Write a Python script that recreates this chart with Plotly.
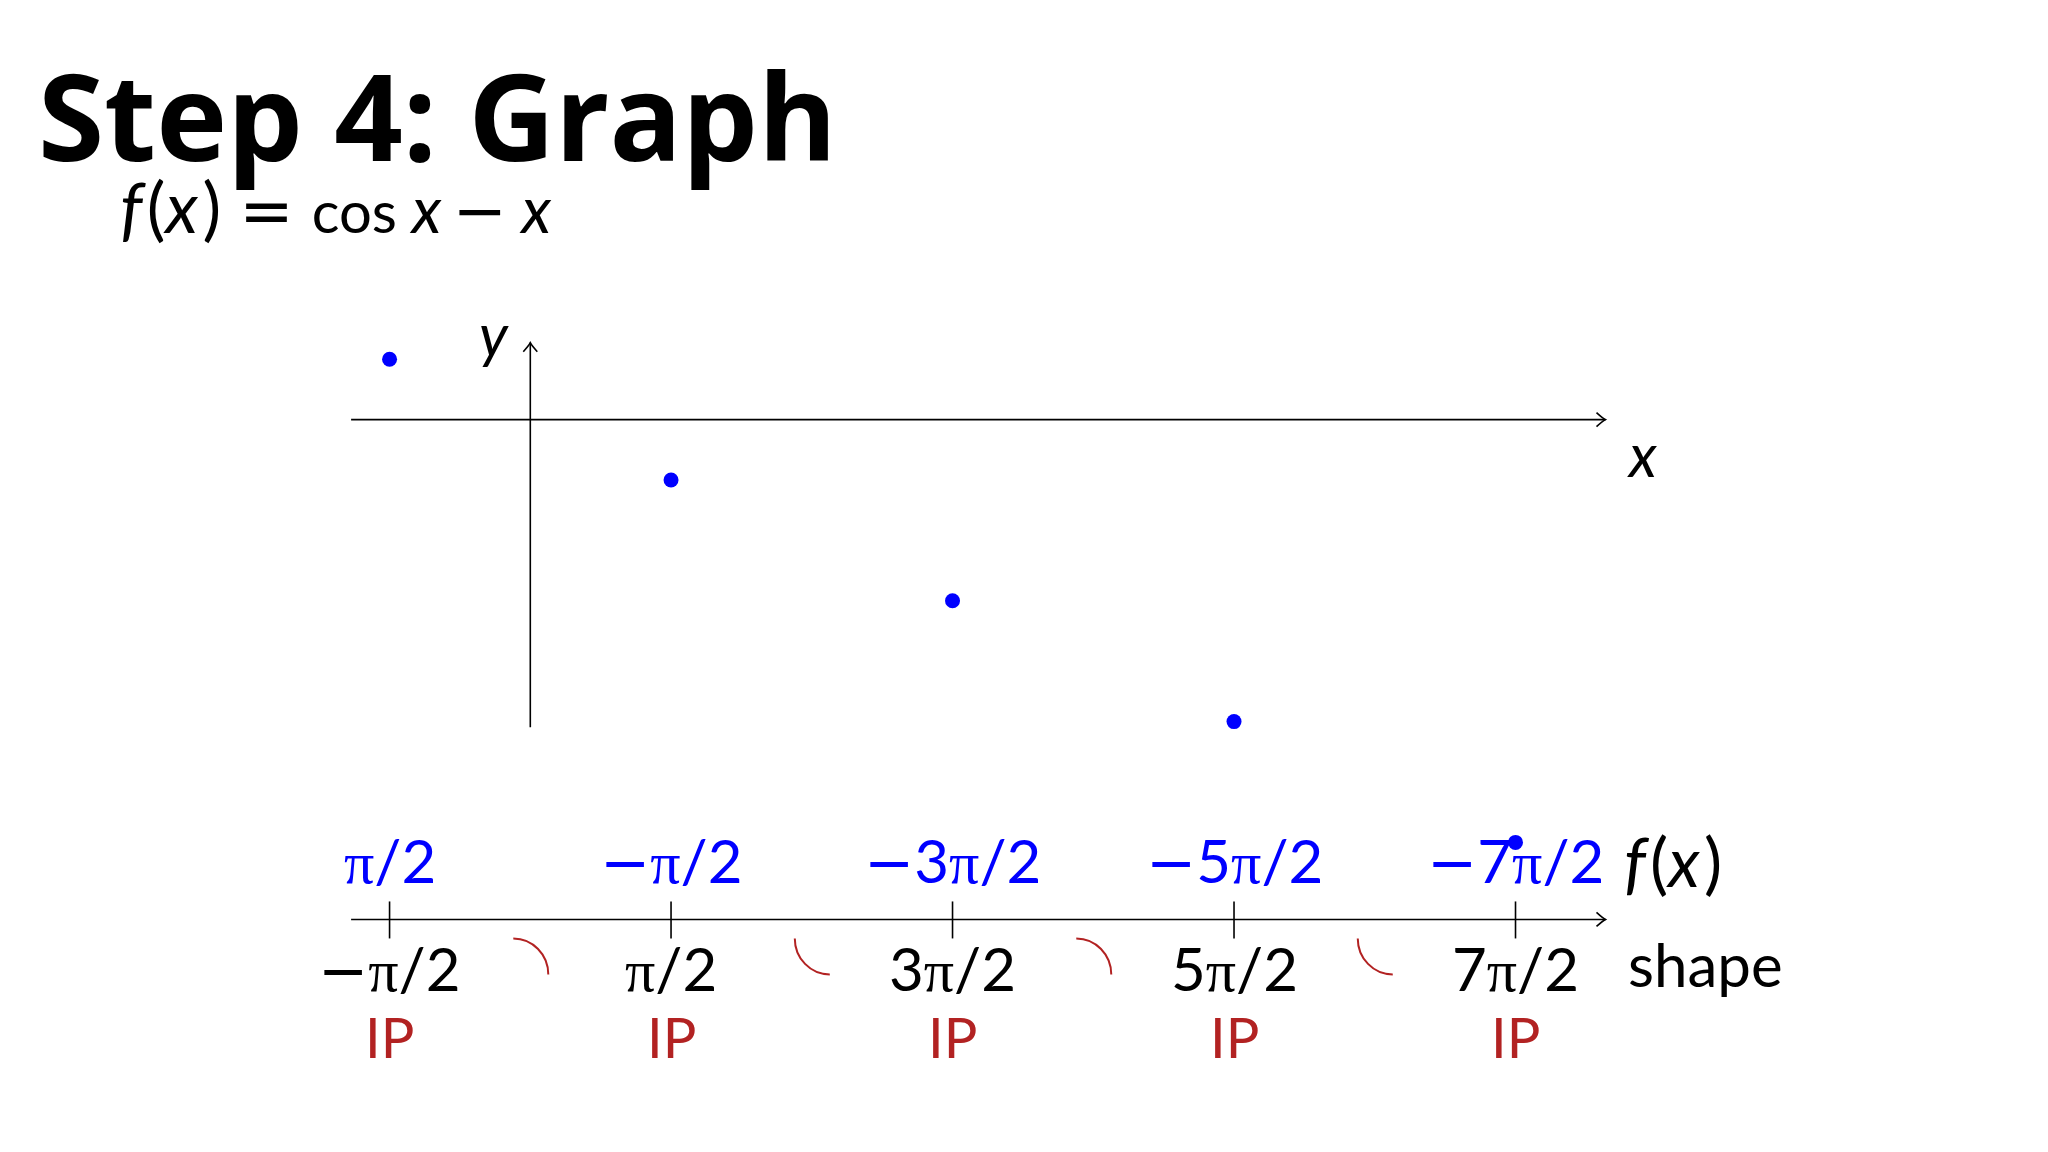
import plotly.graph_objects as go

# ---------------- data ----------------
x_vals = [-1.5708, 1.5708, 4.7124, 7.8540, 10.9956]          # x = -π/2 ... 7π/2
fx_vals = [1.5708, -1.5708, -4.7124, -7.8540, -10.9956]      # f(x) = cos x - x
x_labels = ["−π/2", "π/2", "3π/2", "5π/2", "7π/2"]
fx_labels = ["π/2", "−π/2", "−3π/2", "−5π/2", "−7π/2"]
ip_labels = ["IP", "IP", "IP", "IP", "IP"]
mid_vals = [0.0, 3.1416, 6.2832, 9.4248]                       # between inflection points
concavity = ["down", "up", "down", "up"]

# ---------------- geometry ----------------
W, H = 2048, 1152
X0PX, XSCALE = 530.3, 89.6     # px of x=0, px per unit
Y0PX, YSCALE = 419.6, 38.45    # px of y=0, px per unit
xr = [-X0PX / XSCALE, (W - X0PX) / XSCALE]
yr = [-(H - Y0PX) / YSCALE, Y0PX / YSCALE]

X_AX = (-2, 12)
Y_AX = (-8, 2)
NL_Y = -13.0   # number line height (data units)

def px(x):
    return x / W

def py(y):
    return 1 - y / H

BLUE = "#0000ff"
RED = "#b22222"
MATH_FONT = "Lato"
PI = '<span style="font-family:Liberation Serif">π</span>'
MINUS = '<span style="font-family:DejaVu Sans">−</span>'

def mathify(s):
    return s.replace("π", PI).replace("−", MINUS)

def fofx(size):
    return (f'<span style="font-size:{size}px"><i>f</i>\u200a(<i>x</i>\u200a)</span>')

def op(ch, size):
    return f'<span style="font-family:DejaVu Sans;font-size:{size}px">{ch}</span>'

def ix(size):
    return f'<span style="font-size:{size}px"><i>x</i></span>'

fig = go.Figure()

fig.add_trace(go.Scatter(
    x=x_vals, y=fx_vals, mode="markers",
    marker=dict(color=BLUE, size=15),
    hoverinfo="skip", showlegend=False,
))

shapes = []
LW = 1.6
# coordinate axes
shapes.append(dict(type="line", xref="x", yref="y", x0=X_AX[0], x1=X_AX[1], y0=0, y1=0,
                   line=dict(color="black", width=LW)))
shapes.append(dict(type="line", xref="x", yref="y", x0=0, x1=0, y0=Y_AX[0], y1=Y_AX[1],
                   line=dict(color="black", width=LW)))
# number line
shapes.append(dict(type="line", xref="x", yref="y", x0=X_AX[0], x1=X_AX[1], y0=NL_Y, y1=NL_Y,
                   line=dict(color="black", width=LW)))

# arrowheads
def arrow_right(xa, ya):
    return dict(type="path", xref="x", yref="y", xsizemode="pixel", ysizemode="pixel",
                xanchor=xa, yanchor=ya,
                path="M-9,-7 Q-3,-1.5 0,0 Q-3,1.5 -9,7",
                line=dict(color="black", width=LW))

def arrow_up(xa, ya):
    return dict(type="path", xref="x", yref="y", xsizemode="pixel", ysizemode="pixel",
                xanchor=xa, yanchor=ya,
                path="M-7,-9 Q-1.5,-3 0,0 Q1.5,-3 7,-9",
                line=dict(color="black", width=LW))

shapes.append(arrow_right(X_AX[1], 0))
shapes.append(arrow_up(0, Y_AX[1]))
shapes.append(arrow_right(X_AX[1], NL_Y))

# ticks on number line
for xv in x_vals:
    shapes.append(dict(type="line", xref="x", yref="y", ysizemode="pixel", yanchor=NL_Y,
                       x0=xv, x1=xv, y0=-19, y1=18,
                       line=dict(color="black", width=LW)))

# concavity arcs
K = 0.5523
AL, AR, AT, AB = -17, 18, -19, -55
for xm, c in zip(mid_vals, concavity):
    rx, ry = AR - AL, AT - AB
    if c == "down":
        path = (f"M{AL},{AT} C{AL + K * rx:.2f},{AT} {AR},{AB + K * ry:.2f} {AR},{AB}")
    else:
        path = (f"M{AL},{AT} C{AL},{AT - K * ry:.2f} {AR - K * rx:.2f},{AB} {AR},{AB}")
    shapes.append(dict(type="path", xref="x", yref="y", xsizemode="pixel", ysizemode="pixel",
                       xanchor=xm, yanchor=NL_Y, path=path,
                       line=dict(color=RED, width=2)))

ann = []
# title
ann.append(dict(text="<b>Step 4: Graph</b>", xref="paper", yref="paper",
                x=px(36), y=py(114), xanchor="left", yanchor="middle", showarrow=False,
                font=dict(family="Open Sans", size=120, color="black", weight=800)))
# formula
formula = (fofx(70) + "\u2009\u2009\u200a" + op("=", 65) + "\u2009\u2009\u200acos " + ix(64)
           + "\u2009\u200a" + op("−", 65) + "\u2009\u2009" + ix(64))
ann.append(dict(text=formula, xref="paper", yref="paper",
                x=px(118), y=py(206), xanchor="left", yanchor="middle", showarrow=False,
                font=dict(family=MATH_FONT, size=58, color="black")))
# axis labels
ann.append(dict(text="<i>y</i>", xref="paper", yref="paper", x=px(494), y=py(334),
                xanchor="center", yanchor="middle", showarrow=False,
                font=dict(family=MATH_FONT, size=60, color="black")))
ann.append(dict(text="<i>x</i>", xref="paper", yref="paper", x=px(1642), y=py(454),
                xanchor="center", yanchor="middle", showarrow=False,
                font=dict(family=MATH_FONT, size=60, color="black")))

LAB = 60
for xv, fl, xl, ip in zip(x_vals, fx_labels, x_labels, ip_labels):
    ann.append(dict(text=mathify(fl), xref="x", yref="paper", x=xv, y=py(860),
                    xanchor="center", yanchor="middle", showarrow=False,
                    font=dict(family=MATH_FONT, size=LAB, color=BLUE)))
    ann.append(dict(text=mathify(xl), xref="x", yref="paper", x=xv, y=py(968),
                    xanchor="center", yanchor="middle", showarrow=False,
                    font=dict(family=MATH_FONT, size=LAB, color="black")))
    ann.append(dict(text=ip, xref="x", yref="paper", x=xv, y=py(1036),
                    xanchor="center", yanchor="middle", showarrow=False,
                    font=dict(family=MATH_FONT, size=56, color=RED)))

ann.append(dict(text=fofx(68), xref="paper", yref="paper", x=px(1622), y=py(860),
                xanchor="left", yanchor="middle", showarrow=False,
                font=dict(family=MATH_FONT, size=LAB, color="black")))
ann.append(dict(text="shape", xref="paper", yref="paper", x=px(1626), y=py(964),
                xanchor="left", yanchor="middle", showarrow=False,
                font=dict(family=MATH_FONT, size=LAB, color="black")))

fig.update_layout(
    width=W, height=H,
    margin=dict(l=0, r=0, t=0, b=0),
    paper_bgcolor="white", plot_bgcolor="white",
    xaxis=dict(range=xr, visible=False, fixedrange=True),
    yaxis=dict(range=yr, visible=False, fixedrange=True),
    shapes=shapes, annotations=ann, showlegend=False,
)

fig.write_html("out.html", config={"displayModeBar": False},
               post_script="document.body.style.margin='0px';")
